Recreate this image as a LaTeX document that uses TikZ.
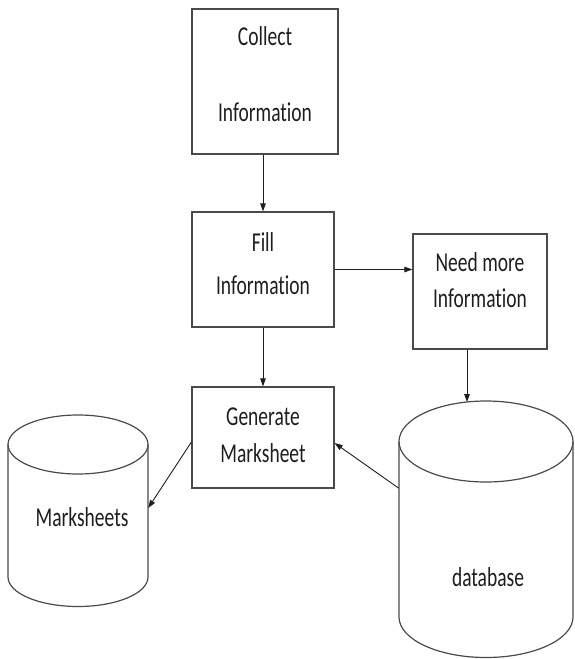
\documentclass[tikz,border=0pt]{standalone}
\usepackage{fontspec}
\setmainfont{Carlito}[Ligatures={NoCommon,NoRequired,NoContextual}]
\usetikzlibrary{arrows.meta}
\newcommand{\tx}[1]{\scalebox{1}[1.4]{#1}}
\definecolor{edge}{HTML}{4A4A4A}
\definecolor{ink}{HTML}{1E1E1E}
\begin{document}
\begin{tikzpicture}[x=1pt,y=-1pt,
  box/.style={draw=edge,line width=1.2pt,rectangle,inner sep=0pt},
  body/.style={draw=none,rectangle,inner sep=0pt},
  txt/.style={inner sep=0pt,text=ink,font=\fontsize{19.5}{23}\selectfont},
  conn/.style={draw=ink,line width=0.9pt,-{Triangle[length=8pt,width=5.5pt]}},
  cyl/.style={draw=edge,line width=1.2pt}]
\useasboundingbox[fill=white] (0,0) rectangle (574,659);
% boxes
\node[box,minimum width=146pt,minimum height=145pt] (collect) at (265,81.5) {};
\node[txt] (collect1) at (265,36) {\tx{Collect}};
\node[txt] (collect2) at (265,112) {\tx{Information}};
\node[box,minimum width=142pt,minimum height=115pt] (fill) at (263,269.5) {};
\node[txt] (fill1) at (263,242) {\tx{Fill}};
\node[txt] (fill2) at (263,285) {\tx{Information}};
\node[box,minimum width=134pt,minimum height=115pt] (need) at (480,291.5) {};
\node[txt] (need1) at (480,262) {\tx{Need more}};
\node[txt] (need2) at (480,298) {\tx{Information}};
\node[box,minimum width=142pt,minimum height=101pt] (gen) at (263,437.5) {};
\node[txt] (gen1) at (263,417) {\tx{Generate}};
\node[txt] (gen2) at (263,453) {\tx{Marksheet}};
% Marksheets cylinder
\draw[cyl] (78,444.5) ellipse [x radius=70, y radius=29.5];
\draw[cyl] (8,444.5) -- (8,577) arc[start angle=180,end angle=360,x radius=70,y radius=-29.5] -- (148,444.5);
\node[body,minimum width=140pt,minimum height=132.5pt] (marks) at (78,510.75) {};
\node[txt] (markst) at (82,517) {\tx{Marksheets}};
% database cylinder
\draw[cyl] (486,441.5) ellipse [x radius=87, y radius=40.5];
\draw[cyl] (399,441.5) -- (399,617) arc[start angle=180,end angle=360,x radius=87,y radius=-40.5] -- (573,441.5);
\node[body,minimum width=174pt,minimum height=175.5pt] (db) at (486,529.25) {};
\node[txt] (dbt) at (488,577) {\tx{database}};
\coordinate (dbtop) at (467,402);
% connectors
\draw[conn] (fill.north |- collect.south) -- (fill.north);
\draw[conn] (fill.east) -- (need.west |- fill.east);
\draw[conn] (fill.south) -- (gen.north);
\draw[conn] ([xshift=-13pt]need.south) -- (dbtop);
\draw[conn] ([yshift=-4.5pt]gen.west) -- ([yshift=2.75pt]marks.east);
\draw[conn] ([yshift=41pt]db.west) -- ([yshift=-5.5pt]gen.east);
\end{tikzpicture}
\end{document}
